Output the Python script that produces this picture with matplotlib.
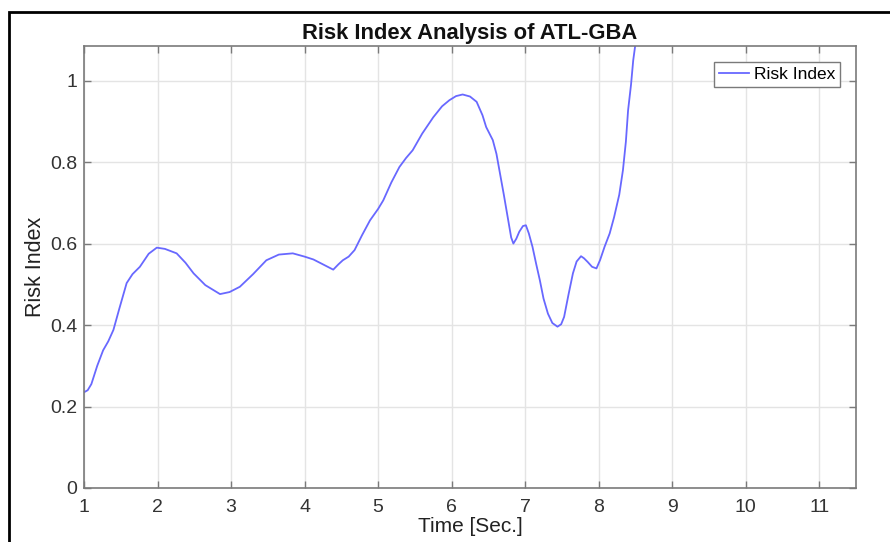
import matplotlib
matplotlib.use("agg")
import matplotlib.pyplot as plt
from matplotlib.patches import Rectangle

# values
time_sec = [1.0, 1.05, 1.1, 1.18, 1.26, 1.33, 1.40, 1.48, 1.58, 1.66, 1.76, 1.88,
            1.99, 2.1, 2.26, 2.38, 2.49, 2.65, 2.85, 2.98, 3.12, 3.3, 3.48, 3.65,
            3.84, 4.0, 4.12, 4.25, 4.39, 4.46, 4.52, 4.60, 4.68, 4.78, 4.89, 5.0,
            5.07, 5.18, 5.29, 5.38, 5.47, 5.6, 5.75, 5.87, 5.97, 6.06, 6.15, 6.25,
            6.34, 6.42, 6.47, 6.56, 6.61, 6.65, 6.71, 6.77, 6.81, 6.84, 6.88, 6.92,
            6.97, 7.01, 7.05, 7.10, 7.15, 7.20, 7.25, 7.31, 7.37, 7.44, 7.49, 7.53,
            7.59, 7.65, 7.70, 7.76, 7.80, 7.85, 7.91, 7.97, 8.02, 8.08, 8.15, 8.21,
            8.28, 8.33, 8.37, 8.40, 8.44, 8.47, 8.50, 8.55]
risk_index = [0.235, 0.24, 0.255, 0.30, 0.338, 0.36, 0.388, 0.44, 0.503, 0.525, 0.543, 0.575,
              0.590, 0.587, 0.576, 0.553, 0.527, 0.498, 0.476, 0.481, 0.494, 0.525, 0.559, 0.573,
              0.576, 0.568, 0.561, 0.549, 0.536, 0.549, 0.559, 0.568, 0.584, 0.62, 0.657, 0.685,
              0.706, 0.75, 0.788, 0.81, 0.829, 0.87, 0.91, 0.937, 0.952, 0.962, 0.966, 0.961,
              0.948, 0.915, 0.886, 0.854, 0.82, 0.780, 0.72, 0.657, 0.615, 0.600, 0.612, 0.629,
              0.643, 0.645, 0.625, 0.592, 0.55, 0.510, 0.465, 0.428, 0.405, 0.396, 0.402, 0.420,
              0.475, 0.527, 0.556, 0.569, 0.564, 0.555, 0.543, 0.539, 0.56, 0.592, 0.625, 0.665,
              0.72, 0.780, 0.85, 0.927, 0.99, 1.05, 1.09, 1.17]

x_ticks = list(range(1, 12))
y_ticks = [0, 0.2, 0.4, 0.6, 0.8, 1]
y_tick_labels = ["0", "0.2", "0.4", "0.6", "0.8", "1"]

plt.rcParams["font.family"] = ["Liberation Sans", "DejaVu Sans"]

fig = plt.figure(figsize=(8.9, 5.42), dpi=100)
ax = fig.add_axes([84 / 890, 1 - 488 / 542, 772 / 890, 442 / 542])

ax.plot(time_sec, risk_index, color="#6868ff", linewidth=1.3, label="Risk Index")

ax.set_xlim(1, 11.5)
ax.set_ylim(0, 1.085)
ax.set_xticks(x_ticks)
ax.set_yticks(y_ticks)
ax.set_yticklabels(y_tick_labels)

ax.grid(True, color="#e4e4e4", linewidth=1)
ax.set_axisbelow(True)
for s in ax.spines.values():
    s.set_color("#7a7a7a")
    s.set_linewidth(1.2)
ax.tick_params(direction="in", length=5, width=1, color="#7a7a7a",
               labelsize=14, labelcolor="#333333", top=True, right=True)
ax.tick_params(axis="x", pad=8)
ax.tick_params(axis="y", pad=5)

ax.set_title("Risk Index Analysis of ATL-GBA", fontsize=15.8, fontweight="bold",
             color="#111111", pad=5)
ax.set_xlabel("Time [Sec.]", fontsize=15, color="#222222", labelpad=0.5)
ax.set_ylabel("Risk Index", fontsize=15.5, color="#222222", labelpad=3)

leg = ax.legend(loc="upper right", fontsize=12.5, fancybox=False, framealpha=1,
                edgecolor="#7a7a7a", handlelength=1.7, handletextpad=0.3,
                borderpad=0.3, borderaxespad=0.9)
leg.get_frame().set_linewidth(1)

# black frame around the picture
fig.patches.append(Rectangle((9 / 890, -0.1), 1.2, 1.1 - 12 / 542,
                             transform=fig.transFigure, fill=False,
                             edgecolor="black", linewidth=2, clip_on=False))

fig.savefig("out.png", dpi=100)
plt.close(fig)
